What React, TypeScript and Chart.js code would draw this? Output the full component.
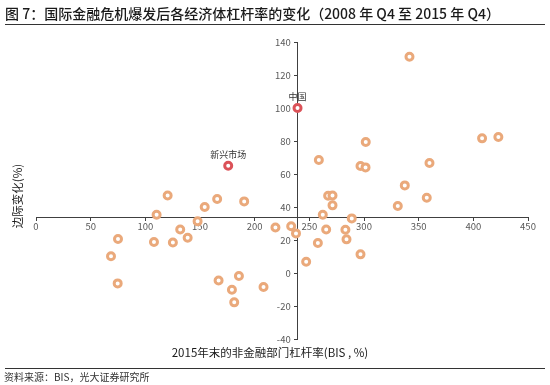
import React, { useEffect, useRef } from "react";
import { Chart, registerables } from "chart.js";

Chart.register(...registerables);

// Data
const economyX: number[] = [
  68.6, 74.7, 75, 107.9, 110.3, 120.4, 125.2, 131.9, 138.7, 147.8, 154.3, 165.7, 190.4,
  167, 179.2, 181.3, 185.6, 208.1, 219, 233.4, 237.8, 247.1, 257.8, 258.7, 262.3, 265.4,
  267.2, 271.2, 271.2, 283, 284, 288.8, 296.8, 296.8, 301.4, 301.6, 330.9, 337.3, 341.6,
  357.4, 359.9, 408, 422.9,
];
const economyY: number[] = [
  10.1, -6.3, 20.6, 18.8, 35.3, 47.0, 18.5, 26.4, 21.4, 31.3, 40, 44.8, 43.4,
  -4.5, -10.1, -17.8, -1.8, -8.5, 27.6, 28.3, 24, 6.8, 18.2, 68.5, 35.3, 26.4,
  46.8, 47, 41, 26.2, 20.4, 33.1, 11.3, 64.8, 64, 79.4, 40.6, 53.1, 131.1,
  45.6, 66.7, 81.6, 82.4,
];
const highlightNames: string[] = ["中国", "新兴市场"];
const highlightX: number[] = [239.2, 175.8];
const highlightY: number[] = [100, 65];

const xMin = 0;
const xMax = 450;
const xStep = 50;
const yMin = -40;
const yMax = 140;
const yStep = 20;
const axisCrossX = 238.8; // vertical axis crosses at this x value
const axisCrossY = 33.7; // horizontal axis crosses at this y value

const titleText = "图 7：国际金融危机爆发后各经济体杠杆率的变化（2008 年 Q4 至 2015 年 Q4）";
const xTitle = "2015年末的非金融部门杠杆率(BIS , %)";
const yTitle = "边际变化(%)";
const sourceText = "资料来源：BIS，光大证券研究所";

const FONT = '"Noto Sans CJK SC", "Noto Sans", sans-serif';

const decorPlugin = {
  id: "decor",
  afterDraw(chart: any) {
    const ctx = chart.ctx as CanvasRenderingContext2D;
    const w = chart.width;
    ctx.save();
    // title
    ctx.fillStyle = "#1a1a1a";
    ctx.font = `500 14px ${FONT}`;
    ctx.textAlign = "left";
    ctx.textBaseline = "middle";
    ctx.fillText(titleText, 5, 14);
    ctx.strokeStyle = "#333";
    ctx.lineWidth = 1;
    ctx.beginPath();
    ctx.moveTo(5, 24.5);
    ctx.lineTo(w - 5, 24.5);
    ctx.stroke();
    // bottom rule + source
    ctx.beginPath();
    ctx.moveTo(5, 368.5);
    ctx.lineTo(w - 5, 368.5);
    ctx.stroke();
    ctx.font = `10px ${FONT}`;
    ctx.fillStyle = "#333";
    ctx.fillText(sourceText, 4, 377);
    // axis titles
    ctx.font = `11.5px ${FONT}`;
    ctx.fillStyle = "#1a1a1a";
    ctx.textAlign = "center";
    ctx.fillText(xTitle, 270, 353);
    ctx.save();
    ctx.translate(18, 196);
    ctx.rotate(-Math.PI / 2);
    ctx.fillText(yTitle, 0, 0);
    ctx.restore();
    // highlight labels
    const xs = chart.scales.x;
    const ys = chart.scales.y;
    ctx.font = `9px ${FONT}`;
    ctx.fillStyle = "#333";
    ctx.textBaseline = "alphabetic";
    highlightNames.forEach((n, i) => {
      const px = xs.getPixelForValue(highlightX[i]);
      const py = ys.getPixelForValue(highlightY[i]);
      ctx.fillText(n, px, py - 8);
    });
    ctx.restore();
  },
};

export default function App() {
  const ref = useRef<HTMLCanvasElement | null>(null);
  useEffect(() => {
    if (!ref.current) return;
    const chart = new Chart(ref.current, {
      type: "scatter",
      data: {
        datasets: [
          {
            label: "economies",
            data: economyX.map((x, i) => ({ x, y: economyY[i] })),
            pointRadius: 3.5,
            pointBorderWidth: 3,
            pointBorderColor: "#EAA97B",
            pointBackgroundColor: "#ffffff",
          },
          {
            label: "highlight",
            data: highlightX.map((x, i) => ({ x, y: highlightY[i] })),
            pointRadius: 3.5,
            pointBorderWidth: 3,
            pointBorderColor: "#DB5258",
            pointBackgroundColor: "#ffffff",
          },
        ],
      },
      options: {
        animation: false,
        responsive: false,
        layout: { padding: { left: 36, right: 22, top: 42, bottom: 46 } },
        plugins: { legend: { display: false }, tooltip: { enabled: false } },
        scales: {
          x: {
            type: "linear",
            min: xMin,
            max: xMax,
            position: { y: axisCrossY } as any,
            ticks: { stepSize: xStep, color: "#595959", font: { size: 9.5, family: FONT }, padding: 0 },
            grid: { drawOnChartArea: false, drawTicks: true, tickLength: 3, color: "#404040" },
            border: { display: true, color: "#404040", width: 1 },
          },
          y: {
            type: "linear",
            min: yMin,
            max: yMax,
            position: { x: axisCrossX } as any,
            ticks: {
              stepSize: yStep,
              color: "#595959",
              font: { size: 9.5, family: FONT },
              callback: (v: any) => `${v}   `,
            },
            grid: { drawOnChartArea: false, drawTicks: true, tickLength: 3, color: "#404040" },
            border: { display: true, color: "#404040", width: 1 },
          },
        },
      },
      plugins: [decorPlugin],
    });
    return () => chart.destroy();
  }, []);
  return (
    <div style={{ position: "absolute", left: 0, top: 0, width: 550, height: 385, background: "#fff" }}>
      <canvas ref={ref} width={550} height={385} />
    </div>
  );
}
